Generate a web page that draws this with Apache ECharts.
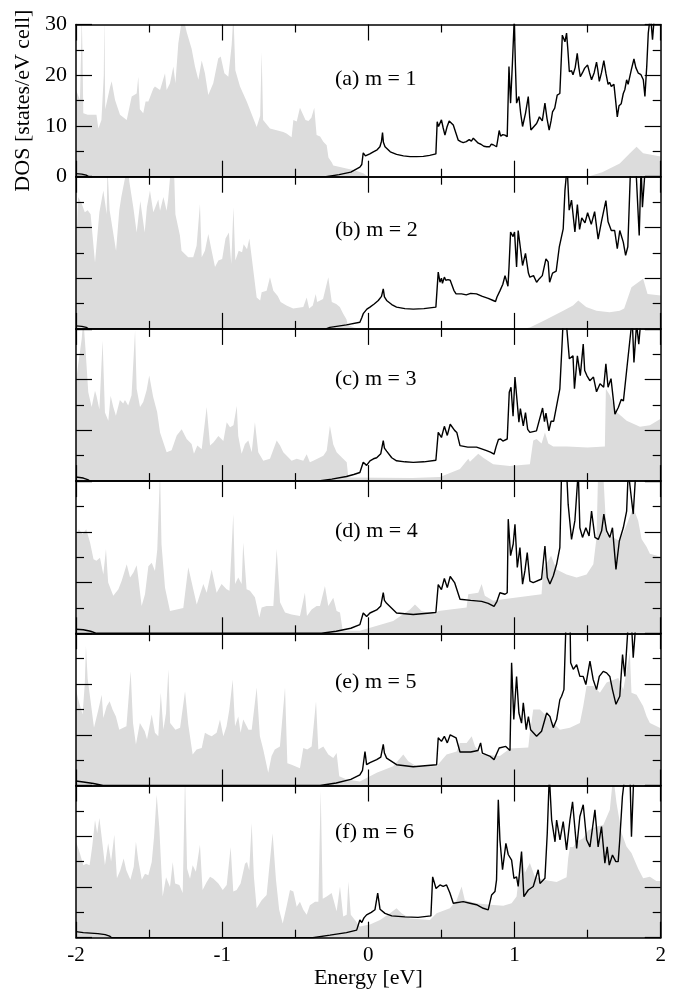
<!DOCTYPE html>
<html><head><meta charset="utf-8">
<script src="https://cdn.jsdelivr.net/npm/echarts/dist/echarts.min.js"></script>
<style>html,body{margin:0;padding:0;background:#fff}#c{width:688px;height:998px}</style>
</head><body><div id="c"></div>
<script>
const xTicks=[-2,-1,0,1,2];
const yTicks=[0,10,20,30];
const panelLabels=['(a) m = 1','(b) m = 2','(c) m = 3','(d) m = 4','(e) m = 5','(f) m = 6'];
const xTitle='Energy [eV]';
const yTitle='DOS [states/eV cell]';

const greyA=[[-2,17.1],[-1.985,16],[-1.973,15.1],[-1.965,25],[-1.961,32],[-1.956,25],[-1.95,12.5],[-1.92,12.2],[-1.86,12.2],[-1.847,9.5],[-1.826,11.2],[-1.81,20],[-1.806,32],[-1.802,20],[-1.8,13.3],[-1.767,17.7],[-1.756,18.8],[-1.733,15.1],[-1.699,12.2],[-1.653,11.2],[-1.619,15.8],[-1.585,16.4],[-1.574,19.7],[-1.563,13.3],[-1.54,12.5],[-1.524,14.8],[-1.505,14.8],[-1.471,17.4],[-1.46,17.8],[-1.425,17.1],[-1.391,20.4],[-1.38,17.1],[-1.357,18.4],[-1.334,21.7],[-1.32,18.4],[-1.3,26.3],[-1.27,32],[-1.243,28.5],[-1.209,25.2],[-1.186,21.7],[-1.163,19.1],[-1.14,22.9],[-1.118,20.4],[-1.095,16.1],[-1.061,18.4],[-1.027,23.3],[-1.01,23.7],[-0.985,20.4],[-0.958,19.7],[-0.935,26],[-0.923,32],[-0.91,21],[-0.878,17.8],[-0.832,14.8],[-0.764,9.8],[-0.74,12],[-0.73,24.6],[-0.72,11.2],[-0.673,9.5],[-0.582,8.8],[-0.56,8.5],[-0.525,7.8],[-0.513,11.2],[-0.49,10.9],[-0.468,13.6],[-0.455,13.9],[-0.43,11.2],[-0.41,11],[-0.39,11.6],[-0.37,13.6],[-0.354,8.2],[-0.33,7.9],[-0.308,6.9],[-0.285,6.2],[-0.273,3.8],[-0.25,2.8],[-0.24,2.2],[-0.194,1.9],[-0.15,1.6],[-0.1,1.3],[-0.035,0.7],[0,0],[1.5,0],[1.6,0.9],[1.72,2.6],[1.789,4.6],[1.835,5.9],[1.88,4.6],[2,4]];
const greyB=[[-2,15.4],[-1.985,26],[-1.96,24.6],[-1.94,23],[-1.92,23.4],[-1.9,22.6],[-1.87,13.1],[-1.84,23],[-1.813,27.3],[-1.79,22.6],[-1.785,32],[-1.77,23.4],[-1.726,15.4],[-1.704,23.4],[-1.69,26],[-1.665,29.7],[-1.645,32],[-1.635,29],[-1.608,24],[-1.585,19],[-1.56,25.2],[-1.53,19],[-1.515,24],[-1.494,27.3],[-1.471,23],[-1.437,25.5],[-1.425,23.3],[-1.402,26],[-1.38,23.3],[-1.37,25.5],[-1.35,32],[-1.33,32],[-1.32,22.6],[-1.289,18.4],[-1.278,15.4],[-1.232,14.1],[-1.198,14.1],[-1.175,16.4],[-1.152,24.6],[-1.14,14.1],[-1.118,15.4],[-1.095,18.7],[-1.072,15.4],[-1.049,12.2],[-1.026,13.5],[-1,13.8],[-0.977,17.8],[-0.954,19],[-0.938,12.8],[-0.923,24],[-0.91,13.5],[-0.887,15.4],[-0.864,15.1],[-0.853,16.7],[-0.83,15.7],[-0.814,17.8],[-0.798,14.1],[-0.764,6.2],[-0.74,5.6],[-0.73,7.2],[-0.696,7.5],[-0.673,10.2],[-0.65,7.5],[-0.62,6.5],[-0.6,5.3],[-0.56,4.6],[-0.514,4],[-0.445,4.3],[-0.422,6.2],[-0.405,4],[-0.38,4.6],[-0.36,6.9],[-0.35,5.3],[-0.31,5.9],[-0.274,10.2],[-0.25,5.3],[-0.22,4.9],[-0.195,4.3],[-0.172,3],[-0.15,1.9],[-0.14,0.8],[-0.1,0.3],[-0.05,0],[1.05,0],[1.105,0.3],[1.2,1.6],[1.333,3.6],[1.4,4.6],[1.436,5.6],[1.49,4.3],[1.56,3.6],[1.65,3.3],[1.72,3.6],[1.75,4],[1.8,8.2],[1.88,9.9],[1.91,6.9],[2,6.6]];
const greyC=[[-2,19.5],[-1.985,23],[-1.961,28],[-1.95,32],[-1.935,26],[-1.916,17.5],[-1.893,14.6],[-1.87,17.8],[-1.86,16.8],[-1.84,14.1],[-1.818,27.7],[-1.802,13.5],[-1.779,11.9],[-1.763,16.8],[-1.745,14.6],[-1.727,12.9],[-1.7,16],[-1.677,15.3],[-1.665,16],[-1.643,14.9],[-1.62,16.9],[-1.596,29.7],[-1.585,18.2],[-1.562,14.6],[-1.54,15.6],[-1.517,17.9],[-1.499,20.8],[-1.472,16.6],[-1.445,13.6],[-1.425,9.6],[-1.38,5.7],[-1.346,6.1],[-1.311,9],[-1.277,10.2],[-1.243,8.3],[-1.209,7.3],[-1.193,5.4],[-1.17,7],[-1.14,6.3],[-1.106,14.6],[-1.083,7],[-1.06,7.6],[-1.026,8.9],[-0.992,7.9],[-0.969,11.6],[-0.946,10.6],[-0.923,11],[-0.9,14.8],[-0.89,8.9],[-0.867,5.4],[-0.844,7.3],[-0.821,8],[-0.798,5.7],[-0.776,11.6],[-0.753,5.7],[-0.719,4],[-0.673,4.4],[-0.627,8],[-0.604,7],[-0.582,5.7],[-0.525,4],[-0.49,4.4],[-0.445,4],[-0.422,5.3],[-0.4,3.7],[-0.377,4],[-0.308,5],[-0.285,6],[-0.263,10.9],[-0.24,7.2],[-0.217,5.7],[-0.183,4.7],[-0.148,3.7],[-0.137,0.7],[0.3,0.6],[0.49,0.8],[0.627,2.4],[0.684,4.4],[0.695,3.8],[0.752,5.4],[0.786,4.6],[0.854,3.3],[0.968,3],[1.105,3.3],[1.128,8],[1.151,8.3],[1.185,7.4],[1.208,9.6],[1.231,7.4],[1.265,6.8],[1.36,6.8],[1.5,6.6],[1.618,6.8],[1.625,18.2],[1.652,16.9],[1.698,13.6],[1.767,11.9],[1.858,10.7],[1.926,11],[2,12.3]];
const greyD=[[-2,19.5],[-1.98,20.5],[-1.955,19.5],[-1.93,20.5],[-1.904,17.9],[-1.88,14.6],[-1.86,14.3],[-1.836,14.9],[-1.813,11.6],[-1.795,16.6],[-1.78,10],[-1.745,7.4],[-1.71,8.7],[-1.688,10.3],[-1.653,13.6],[-1.63,11],[-1.607,12],[-1.585,13.4],[-1.574,11],[-1.551,5.4],[-1.528,7.7],[-1.505,13.2],[-1.482,13.9],[-1.46,12.3],[-1.444,16.5],[-1.425,32],[-1.415,17.5],[-1.391,9],[-1.357,4.4],[-1.311,4.7],[-1.266,5],[-1.232,13],[-1.174,5.7],[-1.129,9.7],[-1.106,8],[-1.072,12.6],[-1.038,8],[-1.004,9.7],[-0.97,8.7],[-0.95,8.4],[-0.924,23.5],[-0.912,9.7],[-0.89,11],[-0.867,9.7],[-0.856,17.9],[-0.833,8.7],[-0.81,8.4],[-0.776,7.1],[-0.746,3.1],[-0.73,5.1],[-0.696,5.4],[-0.65,5.4],[-0.627,16.6],[-0.604,6.1],[-0.57,4.1],[-0.525,3.7],[-0.468,3.4],[-0.434,8],[-0.42,3.4],[-0.388,4.7],[-0.354,5.4],[-0.331,5.4],[-0.297,9.3],[-0.274,5.4],[-0.24,7],[-0.217,4.4],[-0.194,4.1],[-0.175,0.5],[-0.058,0.5],[0.17,2.4],[0.285,4.7],[0.319,5.7],[0.364,4.4],[0.456,3.7],[0.478,4.4],[0.672,5.1],[0.683,7.7],[0.752,8],[0.775,9.7],[0.797,7.4],[0.854,6.4],[0.922,6.7],[1.185,7.7],[1.196,12.6],[1.25,15.3],[1.288,12.6],[1.356,11.6],[1.425,11],[1.493,11.6],[1.539,13.6],[1.561,18.9],[1.572,32],[1.606,32],[1.629,19.6],[1.675,18.9],[1.72,18.2],[1.767,21.4],[1.812,24.8],[1.846,22.2],[1.869,18.6],[1.904,17],[1.926,15.7],[2,15.1]];
const greyE=[[-2,18.9],[-1.985,17],[-1.955,14],[-1.94,20],[-1.932,27.5],[-1.92,21],[-1.9,16.6],[-1.877,11.4],[-1.85,14.6],[-1.824,17.9],[-1.813,13.3],[-1.79,15.6],[-1.77,16.6],[-1.75,15],[-1.727,13.6],[-1.704,11],[-1.677,11.4],[-1.655,11.7],[-1.626,22.5],[-1.61,12.3],[-1.59,8.1],[-1.563,12.3],[-1.53,10.7],[-1.514,9.1],[-1.482,14],[-1.46,10.4],[-1.437,9.7],[-1.42,18.3],[-1.402,11],[-1.384,14.3],[-1.368,22.9],[-1.356,12.3],[-1.32,11],[-1.288,11.4],[-1.254,18.6],[-1.232,12],[-1.202,6.1],[-1.175,7.1],[-1.14,7.4],[-1.118,10.4],[-1.095,10],[-1.072,9.7],[-1.038,10.4],[-1.015,13],[-0.992,9.7],[-0.97,11.7],[-0.951,15],[-0.928,20.9],[-0.912,11.7],[-0.89,13.6],[-0.874,10.4],[-0.856,13],[-0.82,11],[-0.798,11],[-0.764,19.3],[-0.742,9.7],[-0.719,7.1],[-0.685,2.5],[-0.662,5.8],[-0.64,7.1],[-0.605,7.7],[-0.57,19.3],[-0.554,4.4],[-0.525,4.1],[-0.468,3.4],[-0.445,7.4],[-0.418,7.1],[-0.388,7.7],[-0.358,16.6],[-0.342,7.1],[-0.308,7.7],[-0.274,6.1],[-0.24,5.4],[-0.217,6.4],[-0.199,1.8],[-0.148,1.2],[-0.058,0.8],[0.057,2.5],[0.17,3.8],[0.239,6.1],[0.273,4.8],[0.33,3.8],[0.467,3.8],[0.535,6.1],[0.604,6.7],[0.627,8.4],[0.672,8.4],[0.707,9.7],[0.73,7.7],[0.775,6.1],[0.9,5.8],[0.969,7.3],[1.094,7.5],[1.105,10.4],[1.128,15],[1.174,15],[1.31,11],[1.379,11.4],[1.447,12.3],[1.47,15.6],[1.493,19.6],[1.539,19.6],[1.584,18.3],[1.63,20.3],[1.71,21.2],[1.744,18.9],[1.789,26.2],[1.8,18.3],[1.835,17.9],[1.88,15.6],[1.904,13.6],[1.926,12.3],[1.972,11.7],[2,11.3]];
const greyF=[[-2,18.9],[-1.973,16.6],[-1.95,14.3],[-1.93,14.6],[-1.907,14.3],[-1.888,18.2],[-1.87,23.2],[-1.855,20.6],[-1.84,23.6],[-1.825,20],[-1.802,14.3],[-1.78,18.6],[-1.76,15],[-1.738,20.3],[-1.72,11.7],[-1.697,13.3],[-1.674,15.6],[-1.656,13.3],[-1.628,11.4],[-1.605,14],[-1.59,18.9],[-1.574,15.3],[-1.55,11.4],[-1.528,12.6],[-1.505,12.3],[-1.482,14.9],[-1.466,19.9],[-1.448,28.2],[-1.43,21.6],[-1.407,8.1],[-1.384,11.9],[-1.357,10],[-1.338,14.9],[-1.322,10.7],[-1.293,10.4],[-1.27,8.8],[-1.254,32],[-1.24,13.6],[-1.22,11.6],[-1.202,14.3],[-1.18,13],[-1.152,18.3],[-1.134,9.4],[-1.106,11],[-1.083,12],[-1.06,11.6],[-1.026,10.7],[-0.996,9.4],[-0.969,10.4],[-0.942,17.9],[-0.924,9.1],[-0.901,9.4],[-0.874,10.7],[-0.844,14.6],[-0.83,14.9],[-0.815,13.3],[-0.798,22.6],[-0.783,12],[-0.764,5.8],[-0.73,7.4],[-0.696,8.4],[-0.655,20.6],[-0.632,11.4],[-0.61,5.5],[-0.586,2.8],[-0.56,6.1],[-0.536,9.4],[-0.513,9.1],[-0.49,6.1],[-0.468,7.1],[-0.445,5.5],[-0.422,4.5],[-0.4,6.4],[-0.365,7.1],[-0.342,7.1],[-0.326,29],[-0.312,7.7],[-0.285,8.1],[-0.251,8.8],[-0.217,5.2],[-0.194,10.1],[-0.172,4.2],[-0.148,4.5],[-0.137,11.1],[-0.12,4.5],[-0.058,2.2],[0.011,2.6],[0.08,3.5],[0.148,4.8],[0.193,5.8],[0.227,4.8],[0.285,3.8],[0.421,3.5],[0.467,4.8],[0.558,5.8],[0.604,7.4],[0.638,10.1],[0.66,7.4],[0.74,6.8],[0.832,6.5],[0.923,6.3],[0.98,6.8],[1.014,8.1],[1.048,17],[1.071,12.8],[1.105,14.7],[1.139,12],[1.196,11.4],[1.288,11],[1.356,11.9],[1.367,15.6],[1.379,17.9],[1.402,17.9],[1.425,18.9],[1.47,19.6],[1.505,21.2],[1.561,21.9],[1.607,22.2],[1.652,25.2],[1.675,32],[1.698,26.5],[1.733,20.6],[1.766,18],[1.8,16.7],[1.846,13.6],[1.88,11.7],[1.926,12],[1.97,11.2],[2,11.2]];

const blackA=[[-2,0.6],[-1.96,0.5],[-1.93,0.3],[-1.915,0],[-0.29,0],[-0.2,0.4],[-0.12,0.9],[-0.058,1.9],[-0.045,2.4],[-0.035,4.7],[-0.02,4.1],[-0.012,4.4],[0.01,4.5],[0.034,4.9],[0.06,5.3],[0.079,5.9],[0.09,7],[0.097,8.7],[0.103,6.8],[0.114,5.9],[0.15,4.9],[0.193,4.4],[0.24,4.1],[0.285,3.95],[0.33,3.95],[0.376,4],[0.42,4.2],[0.462,4.5],[0.471,10.85],[0.48,9.9],[0.49,10.2],[0.5,11.2],[0.512,9.6],[0.524,8.2],[0.538,9.8],[0.553,11],[0.565,10.7],[0.581,10.2],[0.6,8.5],[0.615,7.2],[0.632,6.9],[0.649,6.7],[0.67,6.9],[0.69,7.3],[0.705,7],[0.718,7.6],[0.735,7.1],[0.752,6.6],[0.77,6.4],[0.79,6],[0.809,5.9],[0.83,5.9],[0.84,6.4],[0.854,6.3],[0.865,6],[0.877,5.9],[0.886,7.4],[0.895,9.1],[0.905,8],[0.91,7.9],[0.92,8.3],[0.934,8.2],[0.95,7.9],[0.962,21.7],[0.973,14.5],[0.985,22],[0.998,31],[1.006,22],[1.014,14.5],[1.03,15.8],[1.042,12.5],[1.055,9.9],[1.075,12.5],[1.094,15.8],[1.103,12],[1.112,9.2],[1.13,9.8],[1.151,10.5],[1.162,11.2],[1.17,11.8],[1.19,11],[1.208,14.5],[1.222,11.5],[1.237,9.2],[1.25,11],[1.26,12.8],[1.275,13.5],[1.292,16.1],[1.31,16.4],[1.327,27.9],[1.337,27.2],[1.345,26.6],[1.356,28.3],[1.365,25],[1.375,20.7],[1.39,20.9],[1.4,20.1],[1.415,21.5],[1.429,24.3],[1.44,21.5],[1.45,19.7],[1.465,20.5],[1.48,21.4],[1.49,21.2],[1.5,22],[1.513,20.5],[1.527,19.1],[1.545,20.5],[1.561,22.6],[1.57,21],[1.58,18.8],[1.595,20.5],[1.611,22.9],[1.625,20.4],[1.64,18.2],[1.65,18.6],[1.662,17.8],[1.68,18.2],[1.69,15.5],[1.703,11.8],[1.715,14],[1.73,14.4],[1.744,16.4],[1.755,17.2],[1.767,19.1],[1.777,18.2],[1.785,18.4],[1.8,21.2],[1.817,23.2],[1.83,21.5],[1.847,20.4],[1.865,20.1],[1.881,19.1],[1.892,15.8],[1.905,22],[1.915,28.3],[1.93,32],[1.944,27],[1.955,31],[1.97,32],[2,32]];
const blackB=[[-2,0.6],[-1.96,0.5],[-1.93,0.3],[-1.915,0],[-0.29,0],[-0.263,0.3],[-0.15,0.8],[-0.058,1.3],[-0.045,2.2],[-0.035,3],[-0.01,3.9],[0.011,4.3],[0.04,4.9],[0.068,5.6],[0.09,6.4],[0.102,7.9],[0.11,6.3],[0.125,5.6],[0.16,4.8],[0.193,4.3],[0.25,4],[0.307,3.9],[0.38,4],[0.462,4.3],[0.478,11.2],[0.49,9.2],[0.5,10],[0.507,9],[0.52,10.2],[0.53,9.6],[0.545,9.7],[0.56,9.6],[0.585,7.6],[0.6,6.9],[0.638,6.9],[0.67,6.7],[0.7,7],[0.74,6.9],[0.78,6.4],[0.82,6],[0.854,5.6],[0.87,5.4],[0.88,6.3],[0.9,7.5],[0.92,8.8],[0.935,10.5],[0.946,10.5],[0.955,8.4],[0.962,12],[0.973,19.1],[0.99,18.2],[1,19.1],[1.014,12.2],[1.025,19.4],[1.04,16],[1.055,12.5],[1.075,14.9],[1.095,11],[1.105,10.2],[1.13,10.5],[1.151,9.2],[1.17,9.9],[1.19,10.5],[1.215,13.8],[1.23,13.2],[1.24,9.2],[1.26,11],[1.285,11.4],[1.306,16.1],[1.333,19.7],[1.345,27.3],[1.36,32],[1.374,23.4],[1.39,25.4],[1.413,19.1],[1.43,24.5],[1.445,19.6],[1.46,21.9],[1.482,20.9],[1.5,22.9],[1.525,20.6],[1.548,23.1],[1.572,17.7],[1.595,21.2],[1.625,25.3],[1.64,21.1],[1.662,19.4],[1.685,19.4],[1.703,15.8],[1.72,19.4],[1.744,17.1],[1.76,14.5],[1.775,16.2],[1.794,32],[1.83,32],[1.853,18.4],[1.866,32],[1.875,24],[1.895,32],[2,32]];
const blackC=[[-2,0.8],[-1.95,0.6],[-1.92,0.3],[-1.904,0],[-0.354,0],[-0.25,0.4],[-0.15,0.9],[-0.1,1.3],[-0.058,1.7],[-0.035,3.7],[-0.012,3.1],[0.011,4],[0.035,4.4],[0.057,4.6],[0.085,5.4],[0.102,8],[0.11,6.5],[0.125,5.9],[0.16,4.6],[0.193,4],[0.25,3.8],[0.307,3.7],[0.38,3.8],[0.462,4.1],[0.478,9.6],[0.5,8.6],[0.52,10.8],[0.54,9],[0.56,11.2],[0.59,10],[0.605,9.6],[0.627,7],[0.68,6.7],[0.74,6.7],[0.77,6.4],[0.809,6],[0.835,5.7],[0.86,5.3],[0.874,6.8],[0.89,8.2],[0.905,8.3],[0.92,7.9],[0.95,8.3],[0.964,17.5],[0.976,18.5],[0.99,12.8],[1.003,20.5],[1.018,15.6],[1.03,11.6],[1.04,14.3],[1.06,10.9],[1.075,13.5],[1.09,10.2],[1.105,9.6],[1.15,9.9],[1.192,14.4],[1.205,11.7],[1.215,13.4],[1.235,9.9],[1.25,11.8],[1.268,11.8],[1.31,18.2],[1.327,28],[1.333,32],[1.355,31],[1.375,24.1],[1.4,24.7],[1.41,18.2],[1.43,24.7],[1.45,20.8],[1.47,27],[1.48,21.8],[1.495,20.8],[1.515,19.8],[1.54,20.5],[1.561,17.6],[1.585,19.2],[1.61,18.5],[1.625,23.1],[1.64,18.5],[1.66,20.2],[1.687,13.2],[1.71,14.5],[1.73,16.1],[1.745,15.8],[1.767,21.8],[1.79,28],[1.805,32],[1.817,23.4],[1.835,31],[1.85,27],[1.865,32],[2,32]];
const blackD=[[-2,0.8],[-1.95,0.7],[-1.9,0.4],[-1.86,0],[-0.32,0],[-0.22,0.4],[-0.12,1],[-0.058,1.7],[-0.035,4],[-0.012,3.3],[0.011,4],[0.057,4.6],[0.085,5.4],[0.102,8],[0.11,6.5],[0.125,5.9],[0.193,4],[0.307,3.7],[0.462,4.1],[0.478,9.6],[0.5,8.6],[0.52,10.8],[0.54,9],[0.56,11.2],[0.59,10],[0.627,6.7],[0.7,6.5],[0.775,6.3],[0.82,5.9],[0.86,5.3],[0.88,6.3],[0.9,8],[0.935,7.7],[0.95,8],[0.957,22.5],[0.973,15.3],[0.991,17.6],[1.003,21.5],[1.019,13],[1.037,16.9],[1.055,9.7],[1.071,12.3],[1.087,15.9],[1.105,10.3],[1.128,10],[1.185,10.7],[1.208,17.2],[1.224,11],[1.242,9.7],[1.265,11.3],[1.288,13.6],[1.31,16.9],[1.322,32],[1.356,32],[1.367,25.4],[1.39,18.5],[1.413,22.2],[1.436,32],[1.447,20.8],[1.465,18.9],[1.488,20.8],[1.51,19.2],[1.527,24.1],[1.55,18.9],[1.573,18.5],[1.596,20.2],[1.611,23.5],[1.63,20.2],[1.652,18.9],[1.67,20.8],[1.694,12.6],[1.717,18.2],[1.744,20.8],[1.767,24.1],[1.778,32],[1.812,23.5],[1.83,32],[2,32]];
const blackE=[[-2,0.9],[-1.95,0.7],[-1.88,0.4],[-1.815,0],[-0.33,0],[-0.22,0.5],[-0.12,1.2],[-0.058,2.1],[-0.04,3],[-0.023,6.7],[-0.012,4.1],[0.011,4.5],[0.057,5.1],[0.085,5.6],[0.102,8.1],[0.11,6.4],[0.125,5.4],[0.193,4.1],[0.307,3.7],[0.467,4.1],[0.478,9.4],[0.5,8.7],[0.52,9.7],[0.54,8.4],[0.56,10],[0.6,9.4],[0.627,6.6],[0.7,6.6],[0.75,6.9],[0.768,8.4],[0.78,6.4],[0.83,5.8],[0.86,5.1],[0.895,7.4],[0.94,7.7],[0.969,6.9],[0.98,24.2],[0.995,13],[1.014,21.5],[1.03,14.3],[1.048,12.3],[1.06,16.3],[1.08,11],[1.095,13.6],[1.11,11],[1.151,9.7],[1.185,10.7],[1.22,14.3],[1.242,13.6],[1.265,11.4],[1.288,13],[1.31,16.9],[1.322,17.6],[1.338,18.9],[1.352,32],[1.38,32],[1.384,24.2],[1.402,22.9],[1.425,23.8],[1.447,21.5],[1.47,21.5],[1.488,19.9],[1.516,24.5],[1.538,20.9],[1.561,18.9],[1.58,21.5],[1.607,22.5],[1.63,22.2],[1.652,21.5],[1.67,18.9],[1.694,16],[1.72,17.6],[1.739,25.8],[1.755,21.5],[1.778,32],[1.8,32],[1.812,25.2],[1.83,32],[2,32]];
const blackF=[[-2,1.2],[-1.95,1],[-1.85,0.8],[-1.8,0.6],[-1.77,0.3],[-1.756,0],[-0.38,0],[-0.263,0.5],[-0.15,1],[-0.08,1.5],[-0.058,3.5],[-0.045,3],[-0.03,3.9],[-0.012,4.5],[0.02,5],[0.045,5.5],[0.064,8.8],[0.08,5.6],[0.114,4.8],[0.16,4.3],[0.25,4.1],[0.34,4],[0.428,4.3],[0.44,12],[0.463,9.7],[0.49,10.4],[0.512,10.1],[0.535,10.4],[0.558,8.8],[0.581,6.8],[0.649,7.1],[0.695,6.8],[0.74,6.5],[0.786,5.8],[0.82,5.5],[0.843,8.4],[0.866,9.1],[0.877,11.4],[0.889,27.2],[0.9,19.3],[0.918,13.4],[0.941,18.6],[0.957,16.4],[0.98,15.3],[0.996,11.7],[1.014,12],[1.025,10.1],[1.048,17],[1.064,8.1],[1.094,9.4],[1.128,10.1],[1.162,13.4],[1.174,10.7],[1.208,11.7],[1.224,20.6],[1.238,32],[1.254,23.2],[1.277,18.9],[1.288,23.2],[1.311,19.3],[1.333,22.9],[1.356,17.3],[1.379,23.2],[1.397,26.8],[1.425,17.6],[1.447,23.9],[1.47,26.2],[1.493,19.3],[1.516,17.9],[1.55,25.2],[1.572,17.9],[1.595,21.9],[1.618,14.7],[1.634,17.9],[1.648,14.3],[1.67,16.3],[1.693,15],[1.709,15],[1.72,19.3],[1.738,27.8],[1.755,32],[1.79,32],[1.8,19.9],[1.816,32],[2,32]];

const greys=[greyA,greyB,greyC,greyD,greyE,greyF];
const blacks=[blackA,blackB,blackC,blackD,blackE,blackF];

const FONT='"Liberation Serif","Times New Roman",serif';
const L=76, R=27.3, TOP=24.5, PH=152.2;
const labelCY=[78.8,230,379,531,682.3,832.5];
const grids=[],xAxes=[],yAxes=[],series=[],graphics=[];
const tickStyle={color:'#000',width:1.2};
for(let i=0;i<6;i++){
  const first=i===0,last=i===5;
  grids.push({left:L,right:R,top:TOP+i*PH,height:PH});
  const xb={gridIndex:i,type:'value',min:xTicks[0],max:xTicks[xTicks.length-1],interval:xTicks[1]-xTicks[0],z:10,
    axisLine:{show:true,onZero:false,lineStyle:{color:'#000',width:1.5}},
    axisTick:{show:true,inside:true,length:16,lineStyle:tickStyle},
    minorTick:{show:true,splitNumber:2,length:8,lineStyle:tickStyle},
    splitLine:{show:false},minorSplitLine:{show:false}};
  xAxes.push(Object.assign({},xb,{position:'bottom',
    axisLabel:{show:last,margin:7,color:'#000',fontFamily:FONT,fontSize:21},
    name:last?xTitle:'',nameLocation:'middle',nameGap:30,nameTextStyle:{color:'#000',fontFamily:FONT,fontSize:22}}));
  xAxes.push(Object.assign({},xb,{position:'top',axisLabel:{show:false}}));
  const yb={gridIndex:i,type:'value',min:yTicks[0],max:yTicks[yTicks.length-1],interval:yTicks[1]-yTicks[0],z:10,
    axisLine:{show:true,onZero:false,lineStyle:{color:'#000',width:1.5}},
    axisTick:{show:true,inside:true,length:16,lineStyle:tickStyle},
    minorTick:{show:true,splitNumber:2,length:8,lineStyle:tickStyle},
    splitLine:{show:false},minorSplitLine:{show:false}};
  yAxes.push(Object.assign({},yb,{position:'left',
    axisLabel:{show:first,margin:9,color:'#000',fontFamily:FONT,fontSize:22},
    name:first?yTitle:'',nameLocation:'middle',nameGap:38,nameTextStyle:{color:'#000',fontFamily:FONT,fontSize:22}}));
  yAxes.push(Object.assign({},yb,{position:'right',axisLabel:{show:false}}));
  series.push({type:'line',xAxisIndex:2*i,yAxisIndex:2*i,data:greys[i],symbol:'none',showSymbol:false,
    lineStyle:{width:0,color:'#dcdcdc'},areaStyle:{color:'#dcdcdc',opacity:1},z:1,clip:true,silent:true});
  series.push({type:'line',xAxisIndex:2*i,yAxisIndex:2*i,data:blacks[i],symbol:'none',showSymbol:false,
    lineStyle:{width:1.4,color:'#000'},z:3,clip:true,silent:true});
  graphics.push({type:'text',x:335,y:labelCY[i],z:20,style:{text:panelLabels[i],fill:'#000',font:'22px '+FONT,fontSize:22,fontFamily:FONT,verticalAlign:'middle',textVerticalAlign:'middle'}});
}
const chart=echarts.init(document.getElementById('c'),null,{renderer:'canvas'});
chart.setOption({animation:false,backgroundColor:'#fff',grid:grids,xAxis:xAxes,yAxis:yAxes,series:series,graphic:graphics});
</script></body></html>
